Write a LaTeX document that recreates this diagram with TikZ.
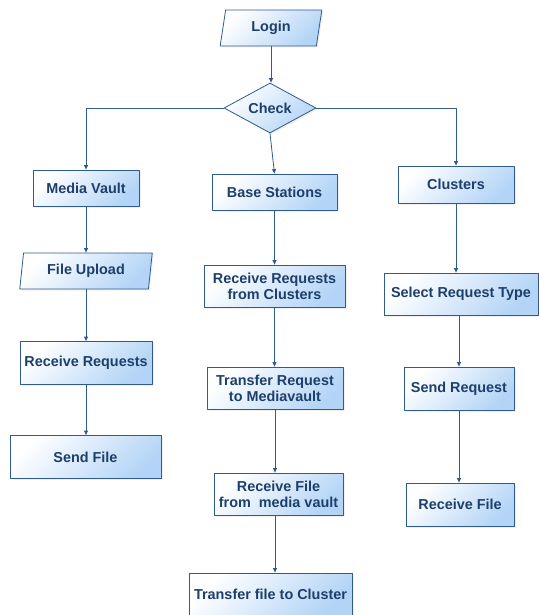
\documentclass[tikz,border=0pt]{standalone}
\usepackage{fontspec}
\setmainfont{Liberation Sans}
\usetikzlibrary{shapes.geometric,arrows.meta,shadows}
\definecolor{boxblue}{HTML}{B3D4F6}
\definecolor{edgeblue}{HTML}{2F5B8E}
\definecolor{textblue}{HTML}{1D3F6B}
\tikzset{
	box/.style={draw=edgeblue, line width=0.8pt, top color=white, bottom color=boxblue,
		shading angle=45, text=textblue, font=\fontsize{14.4}{16}\selectfont\bfseries,
		align=center, inner sep=0pt,
		drop shadow={opacity=0.12, shadow xshift=1.5pt, shadow yshift=-1.5pt}},
	iobox/.style={box, trapezium, trapezium left angle=80, trapezium right angle=100,
		trapezium stretches=true},
	decision/.style={box, diamond, aspect=1.8},
	flow/.style={draw=edgeblue, line width=0.8pt, ->}
}
\begin{document}
\begin{tikzpicture}[x=1pt, y=-1pt, >={Triangle[length=4.5pt,width=4pt]}, line join=round]
	\useasboundingbox (0,0) rectangle (538,615);
	\node[iobox, minimum width=102pt, minimum height=36pt] (login) at (271,28) {Login};
	\node[decision, minimum width=92pt, minimum height=50pt] (check) at (270,108) {Check};
	% left column
	\node[box, minimum width=106pt, minimum height=36pt] (mv) at (86,188) {Media Vault};
	\node[iobox, minimum width=133pt, minimum height=36pt] (fu) at (86,271) {File Upload};
	\node[box, minimum width=132pt, minimum height=43pt] (rr) at (86,363) {Receive Requests};
	\node[box, minimum width=151pt, minimum height=43pt] (sf) at (85.5,457) {Send File};
	% middle column
	\node[box, minimum width=125pt, minimum height=36pt] (bs) at (274.5,192) {Base Stations};
	\node[box, minimum width=141pt, minimum height=42pt] (rrc) at (274.5,286) {Receive Requests\\from Clusters};
	\node[box, minimum width=136pt, minimum height=42pt] (trm) at (275,388) {Transfer Request\\to Mediavault};
	\node[box, minimum width=129pt, minimum height=42pt] (rfm) at (278.5,494) {Receive File\\from\ \ media vault};
	\node[box, minimum width=163pt, minimum height=42pt] (tfc) at (270.5,594) {Transfer file to Cluster};
	% right column
	\node[box, minimum width=116pt, minimum height=37pt] (cl) at (456,184.5) {Clusters};
	\node[box, minimum width=154pt, minimum height=42pt] (srt) at (461,294) {Select Request Type};
	\node[box, minimum width=110pt, minimum height=43pt] (sr) at (459,388.5) {Send Request};
	\node[box, minimum width=108pt, minimum height=43pt] (rf) at (460,504.5) {Receive File};

	\foreach \a/\b in {login/check, mv/fu, fu/rr, rr/sf, bs/rrc, rrc/trm, cl/srt, sr/rf}
	\draw[flow] (\a.south) -- (\a.south |- \b.north);
	\draw[flow] (check.west) -| (mv.north);
	\draw[flow] (check.east) -| (cl.north);
	\draw[flow] (check.south) -- (bs.north);
	\draw[flow] (trm.south) -- (trm.south |- rfm.north);
	\draw[flow] (trm.south |- rfm.south) -- (trm.south |- tfc.north);
	\draw[flow] (sr.north |- srt.south) -- (sr.north);
\end{tikzpicture}
\end{document}
